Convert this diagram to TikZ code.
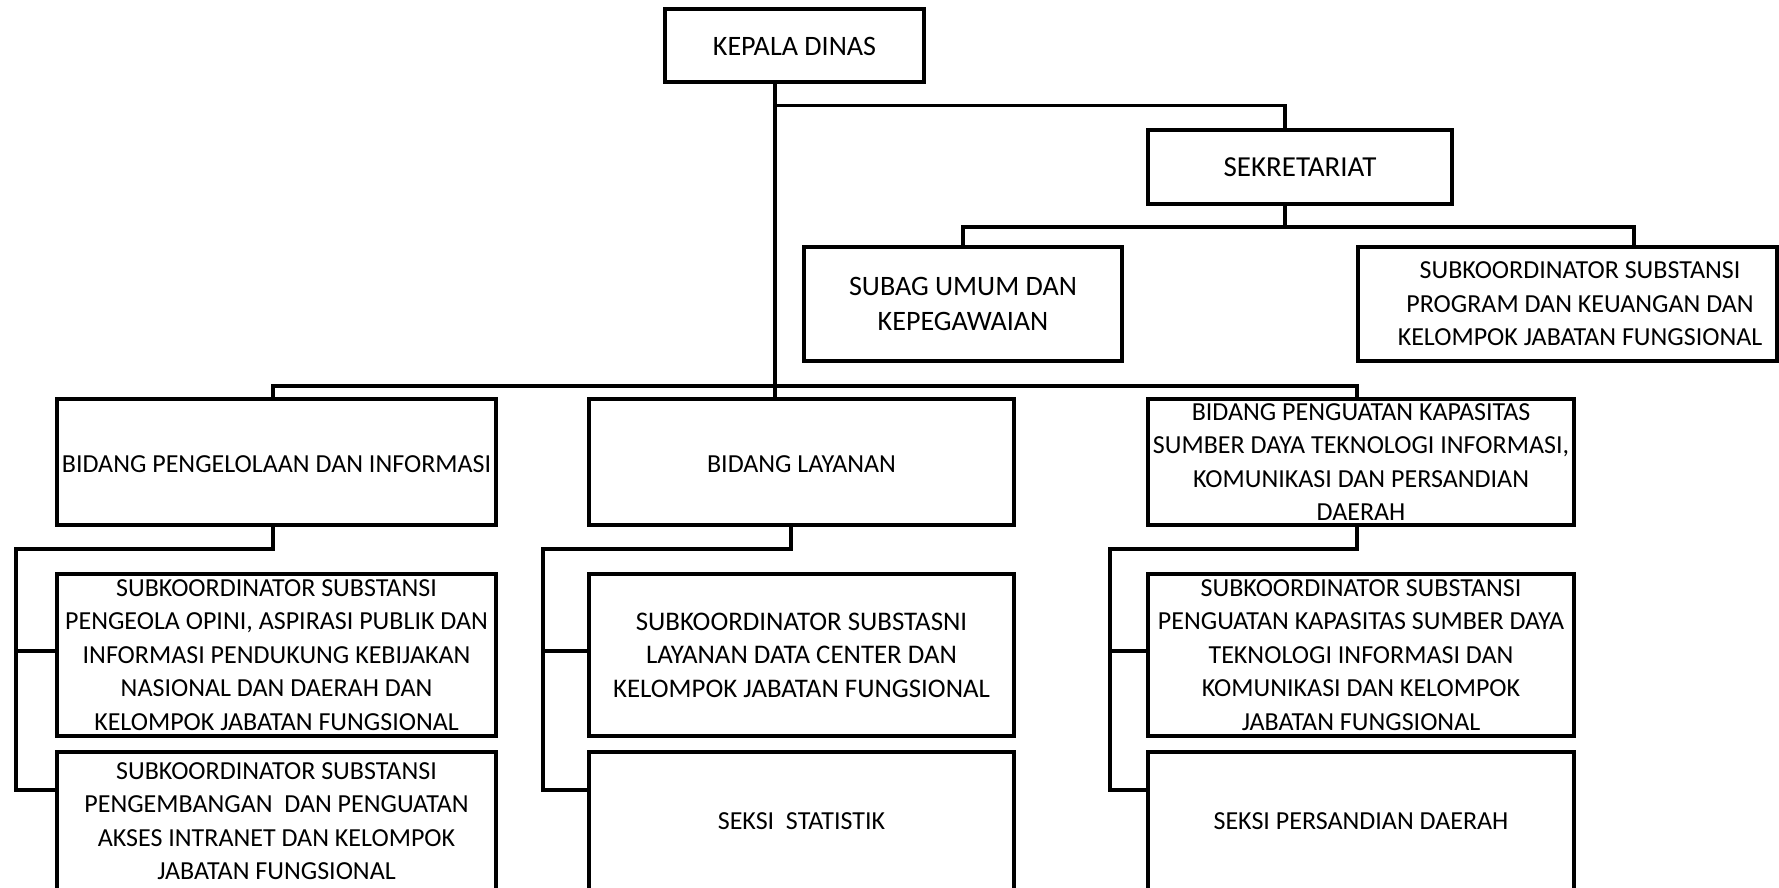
\documentclass[tikz,border=0pt]{standalone}
\usepackage{fontspec}
\setmainfont{Carlito}
\begin{document}
\begin{tikzpicture}[x=0.02cm,y=-0.02cm,
  orgbox/.style 2 args={draw=black, line width=0.066cm, rectangle, inner sep=0pt,
    minimum width={#1*0.02cm}, minimum height={#2*0.02cm}},
  label/.style={align=center, inner sep=0pt, font=\fontsize{14.8}{19}\selectfont},
  headlabel/.style={label, font=\fontsize{16}{20}\selectfont},
  seclabel/.style={label, font=\fontsize{16.5}{20}\selectfont},
  midlabel/.style={label, font=\fontsize{15.3}{19}\selectfont},
  link/.style={draw=black, line width=0.066cm}]
\useasboundingbox (0,0) rectangle (1779,888);
\fill[white] (0,0) rectangle (1779,888);
\begin{scope}
\clip (0,0) rectangle (1779,888);

% helper coordinates for the connector lines
\coordinate (spine) at (775,0);
\coordinate (topbar) at (775,105.5);
\coordinate (sekin) at (1285,0);
\coordinate (sekbar) at (1285,227);
\coordinate (progin) at (1634,0);
\coordinate (bidbar) at (775,386);
\coordinate (d1) at (273,0);
\coordinate (d2) at (791,0);
\coordinate (d3) at (1357,0);
\coordinate (r1) at (16,549);
\coordinate (r2) at (543,549);
\coordinate (r3) at (1110,549);
\coordinate (hi) at (0,651);
\coordinate (lo) at (0,790);

% boxes
\node[orgbox={259}{73}] (kepala) at (794.5,45.5) {};
\node[orgbox={304}{74}] (sek) at (1300,167) {};
\node[orgbox={318}{114}] (subag) at (963,304) {};
\node[orgbox={419}{114}] (prog) at (1567.5,304) {};
\node[orgbox={439}{126}] (bid1) at (276.5,462) {};
\node[orgbox={425}{126}] (bid2) at (801.5,462) {};
\node[orgbox={426}{126}] (bid3) at (1361,462) {};
\node[orgbox={439}{162}] (s1a) at (276.5,655) {};
\node[orgbox={439}{138}] (s1b) at (276.5,821) {};
\node[orgbox={425}{162}] (s2a) at (801.5,655) {};
\node[orgbox={425}{138}] (s2b) at (801.5,821) {};
\node[orgbox={426}{162}] (s3a) at (1361,655) {};
\node[orgbox={426}{138}] (s3b) at (1361,821) {};

% texts
\node[headlabel] (kepalat) at (794.5,46.5) {KEPALA DINAS};
\node[seclabel] (sekt) at (1300,167) {SEKRETARIAT};
\node[headlabel] (subagt) at (963,304) {SUBAG UMUM DAN\\KEPEGAWAIAN};
\node[label] (progt) at (1580,304) {SUBKOORDINATOR SUBSTANSI\\PROGRAM DAN KEUANGAN DAN\\KELOMPOK JABATAN FUNGSIONAL};
\node[label] (bid1t) at (276.5,464) {BIDANG PENGELOLAAN DAN INFORMASI};
\node[label] (bid2t) at (801.5,464) {BIDANG LAYANAN};
\node[label] (bid3t) at (1361,462) {BIDANG PENGUATAN KAPASITAS\\SUMBER DAYA TEKNOLOGI INFORMASI,\\KOMUNIKASI DAN PERSANDIAN\\DAERAH};
\node[label] (s1at) at (276.5,655) {SUBKOORDINATOR SUBSTANSI\\PENGEOLA OPINI, ASPIRASI PUBLIK DAN\\INFORMASI PENDUKUNG KEBIJAKAN\\NASIONAL DAN DAERAH DAN\\KELOMPOK JABATAN FUNGSIONAL};
\node[label] (s1bt) at (276.5,821) {SUBKOORDINATOR SUBSTANSI\\PENGEMBANGAN\ \ DAN PENGUATAN\\AKSES INTRANET DAN KELOMPOK\\JABATAN FUNGSIONAL};
\node[midlabel] (s2at) at (801.5,655) {SUBKOORDINATOR SUBSTASNI\\LAYANAN DATA CENTER DAN\\KELOMPOK JABATAN FUNGSIONAL};
\node[label] (s2bt) at (801.5,821) {SEKSI\ \ STATISTIK};
\node[label] (s3at) at (1361,655) {SUBKOORDINATOR SUBSTANSI\\PENGUATAN KAPASITAS SUMBER DAYA\\TEKNOLOGI INFORMASI DAN\\KOMUNIKASI DAN KELOMPOK\\JABATAN FUNGSIONAL};
\node[label] (s3bt) at (1361,821) {SEKSI PERSANDIAN DAERAH};

% connectors
\draw[link] (kepala.south -| spine) -- (bid2.north -| spine);
\draw[link] (topbar) -| (sek.north -| sekin);
\draw[link] (sek.south -| sekin) -- (sekbar);
\draw[link] (subag.north) |- (sekbar) -| (prog.north -| progin);
\draw[link] (bid1.north -| d1) |- (bidbar) -| (bid3.north -| d3);

\draw[link] (bid1.south -| d1) |- (r1) -- (r1 |- lo) -- (s1b.west |- lo);
\draw[link] (r1 |- hi) -- (s1a.west |- hi);
\draw[link] (bid2.south -| d2) |- (r2) -- (r2 |- lo) -- (s2b.west |- lo);
\draw[link] (r2 |- hi) -- (s2a.west |- hi);
\draw[link] (bid3.south -| d3) |- (r3) -- (r3 |- lo) -- (s3b.west |- lo);
\draw[link] (r3 |- hi) -- (s3a.west |- hi);
\end{scope}
\end{tikzpicture}
\end{document}
